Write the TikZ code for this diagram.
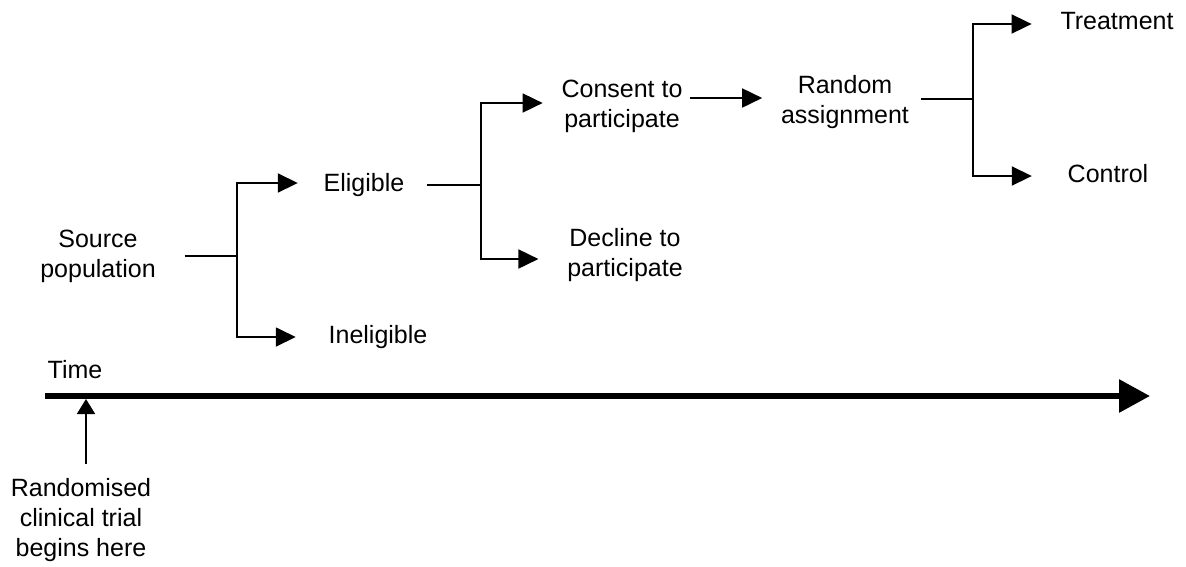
\documentclass[tikz,border=0pt]{standalone}
\usepackage{fontspec}
\setmainfont{Liberation Sans}
\usetikzlibrary{arrows.meta,positioning,calc}

\begin{document}
\begin{tikzpicture}[x=1pt,y=-1pt,
  >={Triangle[length=20pt,width=19pt]},
  font=\fontsize{25}{30}\selectfont,line width=1.8pt,
  lbl/.style={align=center,inner sep=0pt},
  timeline/.style={-{Triangle[length=31pt,width=32pt]},line width=6pt}]
  \useasboundingbox (0,0) rectangle (1186,566);
  % stages of recruitment
  \node[lbl] (src) at (98,256) {Source\\population};
  \node[lbl] (elig) at (364,185) {Eligible};
  \node[lbl] (inel) at (378,337) {Ineligible};
  \node[lbl] (cons) at (622,106) {Consent to\\participate};
  \node[lbl] (decl) at (625,255) {Decline to\\participate};
  \node[lbl] (rand) at (845,102) {Random\\assignment};
  \node[lbl] (treat) at (1117,21) {Treatment};
  \node[lbl] (ctrl) at (1108,174) {Control};
  % where the arms split
  \coordinate (j1) at (237,256);
  \coordinate (j2) at (481,185);
  \coordinate (j3) at (973,99);
  \draw[shorten <=28pt] (src.east) -- (j1);
  \draw[->,shorten >=25pt] (j1) |- ([yshift=2]elig.west);
  \draw[->,shorten >=32pt] (j1) |- (inel.west);
  \draw[shorten <=22pt] (elig.east) -- (j2);
  \draw[->,shorten >=18pt] (j2) |- ([yshift=3]cons.west);
  \draw[->,shorten >=28pt] (j2) |- ([yshift=-4]decl.west);
  \draw[->,shorten <=7pt,shorten >=18pt] ([yshift=8]cons.east) -- ([yshift=8]cons.east -| rand.west);
  \draw[shorten <=11pt] ([yshift=3]rand.east) -- (j3);
  \draw[->,shorten >=28pt] (j3) |- ([yshift=-3]treat.west);
  \draw[->,shorten >=35pt] (j3) |- ([yshift=-2]ctrl.west);
  % time axis
  \node[lbl] (time) at (75,370) {Time};
  \coordinate (t0) at (45,396);
  \coordinate (t1) at (1150,396);
  \draw[timeline] (t0) -- (t1);
  \node[lbl] (rct) at (81,520) {Randomised\\clinical trial\\begins here};
  \coordinate (start) at (86,399);
  \draw[-{Triangle[length=15pt,width=18pt]},shorten <=13pt] (rct.north -| start) -- (start);
\end{tikzpicture}
\end{document}
